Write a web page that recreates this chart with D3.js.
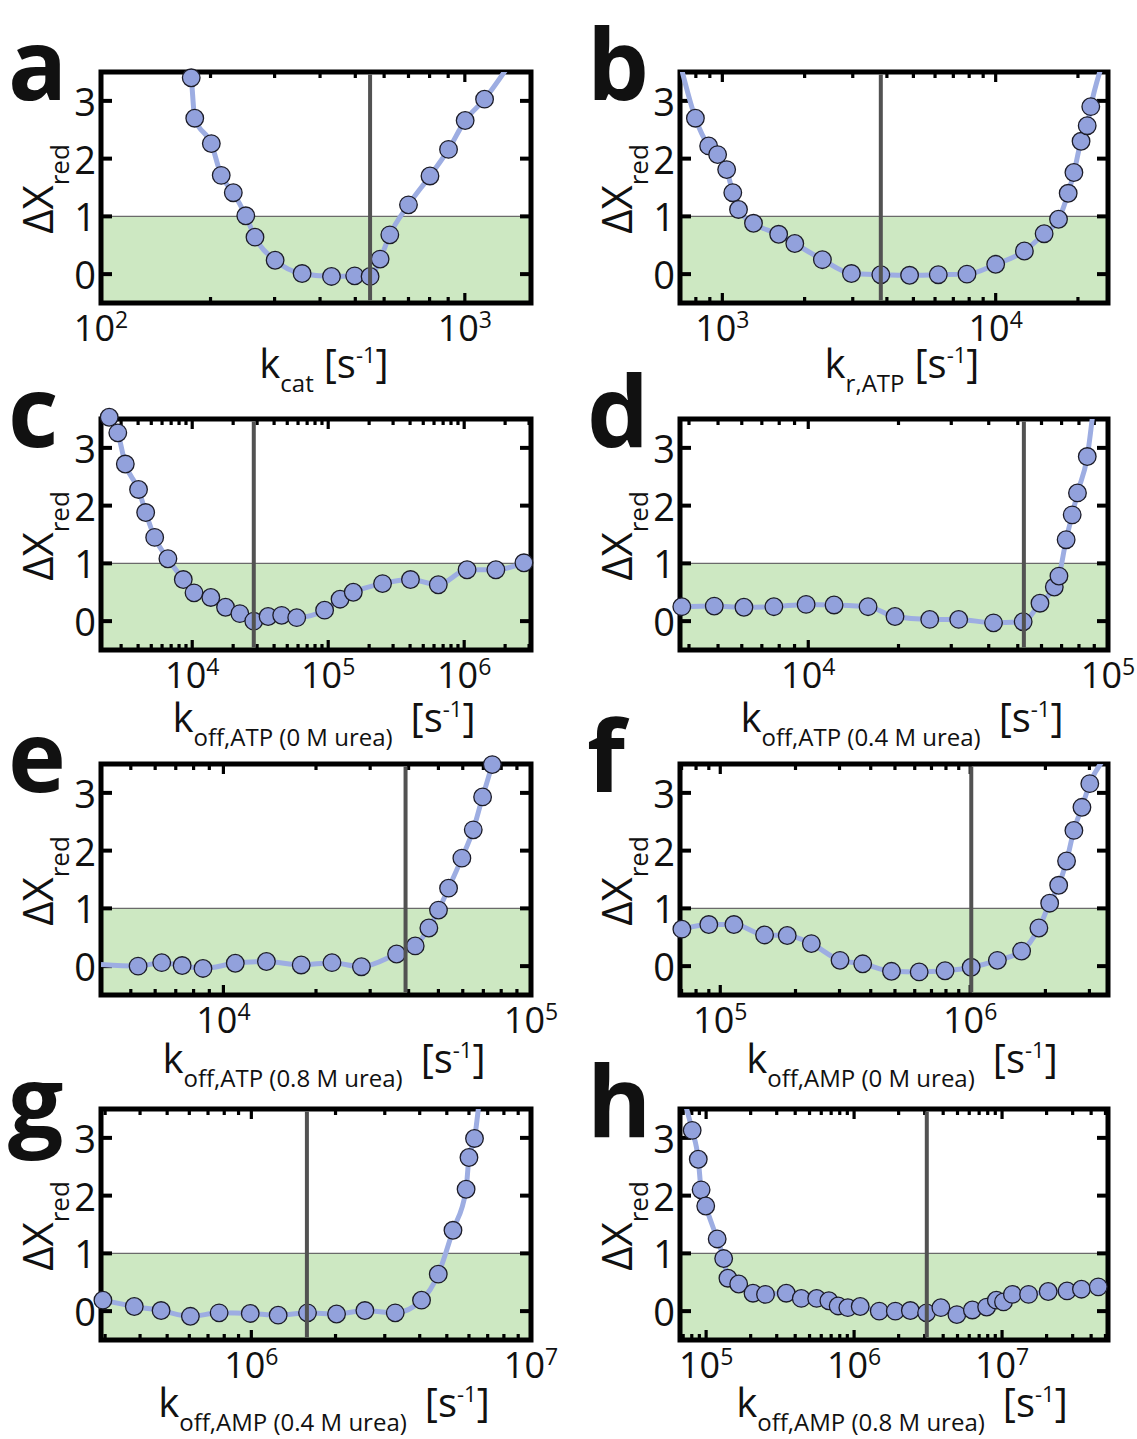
<!DOCTYPE html>
<html><head><meta charset="utf-8">
<script src="https://cdn.jsdelivr.net/npm/d3@7"></script>
<style>body{margin:0;background:#fff} text{font-family:"Open Sans",sans-serif;fill:#111}</style>
</head><body><svg id="chart" width="1137" height="1439"></svg>
<script>
// ---------- data ----------
const panelLetters = ["a","b","c","d","e","f","g","h"];
const yTickValues = [0, 1, 2, 3];
const yDomain = [-0.5, 3.5];
const thresholdY = 1;

const aX = [177,181,201,214,231,250,265,301,357,430,498,549,585,622,700,802,902,1002,1133];
const aY = [3.40,2.70,2.26,1.71,1.41,1.01,0.64,0.24,0.01,-0.04,-0.03,-0.04,0.26,0.68,1.20,1.70,2.16,2.66,3.03];

const bX = [797,891,961,1037,1092,1146,1300,1607,1841,2323,2966,3800,4842,6166,7853,10000,12735,15040,16980,18420,19330,20530,21620,22280];
const bY = [2.70,2.22,2.07,1.81,1.41,1.12,0.88,0.69,0.53,0.25,0.01,-0.01,-0.02,-0.01,0.00,0.17,0.40,0.70,0.95,1.40,1.76,2.30,2.57,2.90];

const cX = [2452,2836,3221,4030,4547,5296,6626,8596,10310,13700,17580,22400,28360,36130,45480,58670,94100,122200,152900,251000,402700,645000,1050000,1710000,2750000];
const cY = [3.53,3.26,2.72,2.28,1.88,1.45,1.08,0.72,0.49,0.41,0.24,0.13,0.00,0.08,0.10,0.06,0.19,0.38,0.50,0.65,0.72,0.63,0.89,0.89,1.01];

const dX = [3785,4857,6100,7677,9836,12190,15830,19470,25420,31760,41500,52110,59300,66200,68600,72500,75950,79100,85270];
const dY = [0.25,0.26,0.24,0.25,0.29,0.28,0.25,0.08,0.03,0.03,-0.03,-0.01,0.31,0.59,0.78,1.41,1.84,2.22,2.85];

const eX = [5280,6302,7343,8583,10930,13800,17900,22540,28100,36560,42030,46550,50030,53950,59600,64900,69600,74830];
const eY = [0.00,0.06,0.01,-0.04,0.05,0.08,0.02,0.06,-0.01,0.21,0.35,0.66,0.97,1.35,1.87,2.36,2.93,3.49];

const fX = [70200,89960,113400,150400,185300,231400,301400,371500,484200,625000,793200,1009000,1285000,1606000,1883000,2080000,2260000,2430000,2600000,2800000,3010000];
const fY = [0.64,0.72,0.72,0.54,0.53,0.39,0.10,0.04,-0.09,-0.10,-0.08,-0.02,0.10,0.26,0.66,1.09,1.40,1.82,2.35,2.75,3.16];

const gX = [294600,381400,475600,605400,767000,991000,1247000,1588000,2017000,2547000,3270000,4060000,4660000,5260000,5860000,6000000,6280000];
const gY = [0.19,0.08,0.01,-0.09,-0.03,-0.04,-0.07,-0.03,-0.05,0.01,-0.03,0.19,0.64,1.40,2.11,2.66,2.99];

const hX = [80500,88500,92500,99400,118800,131400,140400,166000,207400,252000,348000,439700,558500,675300,780000,907500,1100000,1480000,1900000,2400000,3090000,3860000,4950000,6300000,7870000,9150000,10230000,11750000,15100000,20500000,27500000,34400000,44700000];
const hY = [3.13,2.63,2.10,1.82,1.25,0.91,0.57,0.47,0.31,0.29,0.31,0.22,0.22,0.18,0.09,0.06,0.08,0.00,0.00,0.01,-0.03,0.06,-0.06,0.02,0.07,0.19,0.16,0.29,0.29,0.34,0.35,0.38,0.42];

const xDomains = [[100,1520],[700,25760],[2134,3.1e6],[3733,1e5],[4000,1e5],[69000,3.56e6],[290000,1e7],[66600,5.2e7]];
const decadeLabels = [[2,3],[3,4],[4,5,6],[4,5],[4,5],[5,6],[6,7],[5,6,7]];
const bestFitX = [549,3800,28360,52400,39100,1.01e6,1.58e6,3.1e6];
const curveStart = [[175,3.6],[705,3.6],null,null,[4000,0.03],null,null,[72000,3.6]];
const curveEnd = [[1300,3.55],[24400,3.6],null,[89500,3.7],null,[3.45e6,3.6],[6.55e6,3.7],null];
const xSubscripts = ["cat","r,ATP","off,ATP (0 M urea)","off,ATP (0.4 M urea)","off,ATP (0.8 M urea)","off,AMP (0 M urea)","off,AMP (0.4 M urea)","off,AMP (0.8 M urea)"];

const seriesX = [aX,bX,cX,dX,eX,fX,gX,hX];
const seriesY = [aY,bY,cY,dY,eY,fY,gY,hY];

// ---------- layout ----------
const colLeft = [101, 680];
const boxW = [430, 428];
const rowTop = [72, 419, 764, 1109];
const boxH = 231;
const titleOffset = [75, 82, 78, 77];

const svg = d3.select("#chart");
const defs = svg.append("defs");

panelLetters.forEach((letter, i) => {
  const col = i % 2, row = Math.floor(i / 2);
  const x0 = colLeft[col], y0 = rowTop[row], w = boxW[col], h = boxH;
  const g = svg.append("g").attr("transform", `translate(${x0},${y0})`);
  const x = d3.scaleLog().domain(xDomains[i]).range([0, w]);
  const y = d3.scaleLinear().domain(yDomain).range([h, 0]);

  defs.append("clipPath").attr("id", "clip" + i)
    .append("rect").attr("x", 0).attr("y", 0).attr("width", w).attr("height", h);

  // green acceptance band
  g.append("rect").attr("x", 0).attr("width", w)
    .attr("y", y(thresholdY)).attr("height", y(yDomain[0]) - y(thresholdY))
    .attr("fill", "#cde8c2");
  g.append("line").attr("x1", 0).attr("x2", w)
    .attr("y1", y(thresholdY)).attr("y2", y(thresholdY))
    .attr("stroke", "#6a6a6a").attr("stroke-width", 1.2);

  // frame
  g.append("rect").attr("x", 0).attr("y", 0).attr("width", w).attr("height", h)
    .attr("fill", "none").attr("stroke", "#000").attr("stroke-width", 5);

  // x ticks (log): majors at decades, minors 2..9
  const [d0, d1] = xDomains[i];
  const ticks = [];
  for (let e = Math.floor(Math.log10(d0)); e <= Math.ceil(Math.log10(d1)); e++) {
    for (let m = 1; m <= 9; m++) {
      const v = m * Math.pow(10, e);
      if (v >= d0 * 1.0001 && v <= d1 * 0.9999) ticks.push({v, major: m === 1});
    }
  }
  ticks.forEach(t => {
    const len = t.major ? 10 : 6;
    const xx = x(t.v);
    g.append("line").attr("x1", xx).attr("x2", xx).attr("y1", 0).attr("y2", len)
      .attr("stroke", "#000").attr("stroke-width", 3.2);
    g.append("line").attr("x1", xx).attr("x2", xx).attr("y1", h).attr("y2", h - len)
      .attr("stroke", "#000").attr("stroke-width", 3.2);
  });
  // y ticks
  yTickValues.forEach(v => {
    g.append("line").attr("x1", 0).attr("x2", 11).attr("y1", y(v)).attr("y2", y(v))
      .attr("stroke", "#000").attr("stroke-width", 4);
    g.append("line").attr("x1", w).attr("x2", w - 11).attr("y1", y(v)).attr("y2", y(v))
      .attr("stroke", "#000").attr("stroke-width", 4);
    g.append("text").attr("x", -5).attr("y", y(v)).attr("text-anchor", "end")
      .attr("dominant-baseline", "central").attr("font-size", 38).text(v);
  });

  // x tick labels 10^n
  decadeLabels[i].forEach(n => {
    const t = g.append("text").attr("x", x(Math.pow(10, n))).attr("y", h + 38)
      .attr("text-anchor", "middle").attr("font-size", 36);
    t.append("tspan").text("10");
    t.append("tspan").attr("font-size", 23).attr("dy", -13).text(n);
  });

  // curve
  const pts = seriesX[i].map((vx, k) => [vx, seriesY[i][k]]);
  if (curveStart[i]) pts.unshift(curveStart[i]);
  if (curveEnd[i]) pts.push(curveEnd[i]);
  const line = d3.line().x(d => x(d[0])).y(d => y(d[1])).curve(d3.curveMonotoneX);
  g.append("path").attr("d", line(pts)).attr("clip-path", `url(#clip${i})`)
    .attr("fill", "none").attr("stroke", "#9dade2").attr("stroke-width", 5)
    .attr("stroke-linejoin", "round");

  // points
  g.selectAll("circle.pt").data(seriesX[i].map((vx, k) => [vx, seriesY[i][k]]))
    .enter().append("circle").attr("class", "pt")
    .attr("cx", d => x(d[0])).attr("cy", d => y(d[1])).attr("r", 8.8)
    .attr("fill", "#92a1dc").attr("stroke", "#1c1c28").attr("stroke-width", 1.3);

  // best-fit vertical line
  g.append("line").attr("x1", x(bestFitX[i])).attr("x2", x(bestFitX[i]))
    .attr("y1", 2.5).attr("y2", h - 2.5)
    .attr("stroke", "#525252").attr("stroke-width", 4);

  // y-axis title
  const yt = svg.append("text")
    .attr("transform", `translate(${x0 - 48},${y0 + 117}) rotate(-90)`)
    .attr("text-anchor", "middle").attr("font-size", 42);
  yt.append("tspan").text("ΔX");
  yt.append("tspan").attr("font-size", 26).attr("dy", 16).text("red");

  // x-axis title
  const xt = g.append("text").attr("x", w / 2 + 8).attr("y", h + titleOffset[row])
    .attr("text-anchor", "middle").attr("font-size", 40);
  xt.append("tspan").text("k");
  xt.append("tspan").attr("font-size", 24).attr("dy", 14).text(xSubscripts[i]);
  xt.append("tspan").attr("dy", -14).attr("dx", i < 2 ? 10 : 18).text("[s");
  xt.append("tspan").attr("font-size", 22).attr("dy", -15).text("-1");
  xt.append("tspan").attr("dy", 15).text("]");

  // panel letter
  svg.append("text").attr("x", x0 - 93).attr("y", y0 + 28)
    .attr("font-family", "'Liberation Sans',Arial,sans-serif")
    .attr("font-weight", "bold").attr("font-size", 98).text(letter);
});
</script></body></html>
